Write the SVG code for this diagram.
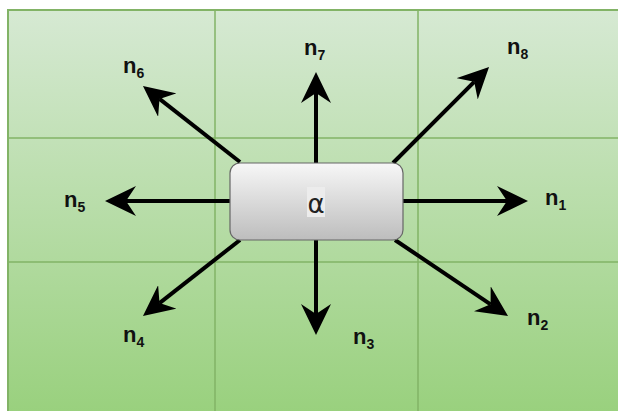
<svg xmlns="http://www.w3.org/2000/svg" width="618" height="411" viewBox="0 0 618 411">
  <style>
    .grid { stroke: #82b366; stroke-width: 1.5; fill: none; }
    .conn { stroke: #000; stroke-width: 4; fill: none; marker-end: url(#arrow); }
    .lbl { font-family: "Liberation Sans", Arial, sans-serif; font-weight: bold; font-size: 22px; fill: #111; }
    .sub { font-size: 14px; }
  </style>
  <defs>
    <linearGradient id="bg" x1="0" y1="0" x2="0" y2="1">
      <stop offset="0" stop-color="#d6e9d3"/>
      <stop offset="1" stop-color="#98d07c"/>
    </linearGradient>
    <linearGradient id="boxg" x1="0" y1="0" x2="0" y2="1">
      <stop offset="0" stop-color="#f7f7f7"/>
      <stop offset="1" stop-color="#bdbdbd"/>
    </linearGradient>
    <marker id="arrow" markerUnits="userSpaceOnUse" viewBox="-10 -15 32 30" markerWidth="32" markerHeight="30" refX="0" refY="0" orient="auto">
      <path d="M-10,-15 L21,0 L-10,15 L0,0 Z" fill="#000"/>
    </marker>
  </defs>

  <g id="background">
    <rect x="8" y="10" width="620" height="410" fill="url(#bg)" stroke="#82b366" stroke-width="2"/>
    <line class="grid" x1="215" y1="10" x2="215" y2="411"/>
    <line class="grid" x1="418" y1="10" x2="418" y2="411"/>
    <line class="grid" x1="8" y1="138" x2="618" y2="138"/>
    <line class="grid" x1="8" y1="262" x2="618" y2="262"/>
  </g>

  <g id="connectors">
    <path class="conn" d="M403,201 L507,201"/>
    <path class="conn" d="M395,240 L490.6,304.3"/>
    <path class="conn" d="M316,240 L316,314"/>
    <path class="conn" d="M240,240 L159.5,303.1"/>
    <path class="conn" d="M230,201 L126,201"/>
    <path class="conn" d="M240,162 L159.5,98.9"/>
    <path class="conn" d="M316,163 L316,93"/>
    <path class="conn" d="M393,163 L474.2,81.8"/>
  </g>

  <g id="alpha">
    <rect x="230" y="163" width="173" height="77" rx="10" ry="10" fill="url(#boxg)" stroke="#666666" stroke-width="1.2"/>
    <rect x="307" y="187" width="18" height="30" fill="#ececec"/>
    <text x="316" y="213" text-anchor="middle" font-family="'DejaVu Sans', sans-serif" font-size="26" fill="#222">α</text>
  </g>

  <g id="n1"><text class="lbl" x="545" y="205">n<tspan class="sub" dy="5">1</tspan></text></g>
  <g id="n2"><text class="lbl" x="527" y="325">n<tspan class="sub" dy="5">2</tspan></text></g>
  <g id="n3"><text class="lbl" x="353" y="344">n<tspan class="sub" dy="5">3</tspan></text></g>
  <g id="n4"><text class="lbl" x="123" y="342">n<tspan class="sub" dy="5">4</tspan></text></g>
  <g id="n5"><text class="lbl" x="64" y="207">n<tspan class="sub" dy="5">5</tspan></text></g>
  <g id="n6"><text class="lbl" x="123" y="73">n<tspan class="sub" dy="5">6</tspan></text></g>
  <g id="n7"><text class="lbl" x="304" y="55">n<tspan class="sub" dy="5">7</tspan></text></g>
  <g id="n8"><text class="lbl" x="507" y="54">n<tspan class="sub" dy="5">8</tspan></text></g>
</svg>
